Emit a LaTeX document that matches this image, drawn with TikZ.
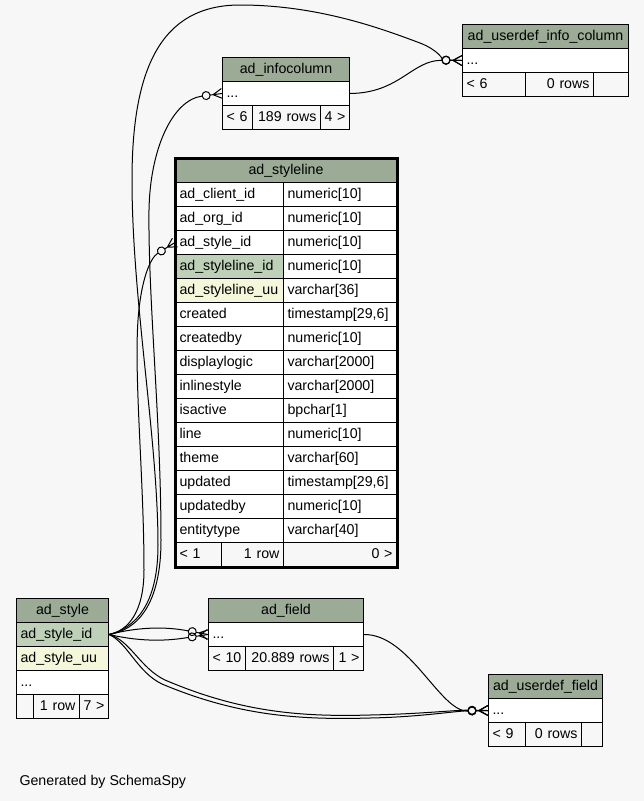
\documentclass[tikz,border=0pt]{standalone}
\usepackage{fontspec}
\setmainfont{Liberation Sans}
\usetikzlibrary{arrows.meta}

\definecolor{tblhead}{HTML}{9BAB96}
\definecolor{pkfill}{HTML}{BED1B8}
\definecolor{uqfill}{HTML}{F4F7DA}
\definecolor{bggray}{HTML}{F7F7F7}

% crow's foot with an open circle (zero or many)
\pgfdeclarearrow{
    name = CrowO,
    setup code = {
        \pgfarrowssettipend{0pt}
        \pgfarrowssetlineend{-20pt}
        \pgfarrowssetbackend{-20pt}
        \pgfarrowssetvisualbackend{-20pt}
        \pgfarrowshullpoint{0pt}{5pt}
        \pgfarrowshullpoint{0pt}{-5pt}
        \pgfarrowshullpoint{-20pt}{4pt}
        \pgfarrowshullpoint{-20pt}{-4pt}
    },
    drawing code = {
        \pgfsetdash{}{0pt}
        \pgfpathmoveto{\pgfqpoint{0pt}{5pt}}
        \pgfpathlineto{\pgfqpoint{-9pt}{0pt}}
        \pgfpathlineto{\pgfqpoint{0pt}{-5pt}}
        \pgfpathmoveto{\pgfqpoint{0pt}{0pt}}
        \pgfpathlineto{\pgfqpoint{-12pt}{0pt}}
        \pgfusepathqstroke
        \pgfpathcircle{\pgfqpoint{-16pt}{0pt}}{4pt}
        \pgfusepathqstroke
    }
}

\begin{document}
\begin{tikzpicture}[x=1pt,y=-1pt,
    font=\fontsize{14.2}{17}\selectfont,
    cell/.style={draw, line width=1, anchor=north west, minimum height=24,
        inner xsep=4, inner ysep=0, text height=10.5, text depth=3},
    lcell/.style={cell, fill=white, text width=#1, align=left},
    hcell/.style={cell, fill=tblhead, text width=#1, align=center},
    fcell/.style={cell, fill=bggray, text width=#1, align=left},
    frcell/.style={cell, fill=bggray, text width=#1, align=right},
    rel/.style={line width=1, -{CrowO}},
]
    \fill[bggray] (0,0) rectangle (644,801);
    \useasboundingbox (0,0) rectangle (644,801);

    % ad_userdef_info_column
    \node[hcell=158] (uic-h) at (462,24) {ad\_userdef\_info\_column};
    \node[lcell=158] (uic-row) at (462,48) {...};
    \node[fcell=55] (uic-f1) at (462,72) {< 6};
    \node[frcell=60] (uic-f2) at (525,72) {0 rows};
    \node[fcell=27] (uic-f3) at (593,72) {};

    % ad_infocolumn
    \node[hcell=119] (ic-h) at (222,57) {ad\_infocolumn};
    \node[lcell=119] (ic-row) at (222,81) {...};
    \node[fcell=22] (ic-f1) at (222,105) {< 6};
    \node[frcell=60] (ic-f2) at (252,105) {189 rows};
    \node[frcell=21] (ic-f3) at (320,105) {4 >};

    % ad_styleline
    \node[hcell=213] (sl-h) at (175,158) {ad\_styleline};
    \foreach \col/\typ/\clr [count=\i] in {
        ad\_client\_id/numeric[10]/white,
        ad\_org\_id/numeric[10]/white,
        ad\_style\_id/numeric[10]/white,
        ad\_styleline\_id/numeric[10]/pkfill,
        ad\_styleline\_uu/varchar[36]/uqfill,
        created/{timestamp[29,6]}/white,
        createdby/numeric[10]/white,
        displaylogic/varchar[2000]/white,
        inlinestyle/varchar[2000]/white,
        isactive/bpchar[1]/white,
        line/numeric[10]/white,
        theme/varchar[60]/white,
        updated/{timestamp[29,6]}/white,
        updatedby/numeric[10]/white,
        entitytype/varchar[40]/white}{
        \node[lcell=100, fill=\clr] (sl-\i) at (175,158+24*\i) {\col};
        \node[lcell=105] (slt-\i) at (283,158+24*\i) {\typ};
    }
    \node[fcell=38] (slf-1) at (175,542) {< 1};
    \node[frcell=54] (slf-2) at (221,542) {1 row};
    \node[frcell=105] (slf-3) at (283,542) {0 >};
    \draw[line width=3] (sl-h.north west) rectangle (slf-3.south east);

    % ad_style
    \node[hcell=84] (st-h) at (16,598) {ad\_style};
    \node[lcell=84, fill=pkfill] (st-id) at (16,622) {ad\_style\_id};
    \node[lcell=84, fill=uqfill] (st-uu) at (16,646) {ad\_style\_uu};
    \node[lcell=84] (st-more) at (16,670) {...};
    \node[fcell=9] (st-f1) at (16,694) {};
    \node[frcell=38] (st-f2) at (33,694) {1 row};
    \node[frcell=21] (st-f3) at (79,694) {7 >};

    % ad_field
    \node[hcell=147] (fd-h) at (208,598) {ad\_field};
    \node[lcell=147] (fd-row) at (208,622) {...};
    \node[fcell=29] (fd-f1) at (208,646) {< 10};
    \node[frcell=80] (fd-f2) at (245,646) {20.889 rows};
    \node[frcell=22] (fd-f3) at (333,646) {1 >};

    % ad_userdef_field
    \node[hcell=106] (ud-h) at (488,674) {ad\_userdef\_field};
    \node[lcell=106] (ud-row) at (488,698) {...};
    \node[fcell=29] (ud-f1) at (488,722) {< 9};
    \node[frcell=48] (ud-f2) at (525,722) {0 rows};
    \node[fcell=13] (ud-f3) at (581,722) {};

    % relations
    \draw[rel] (st-id.east) .. controls (135,628) and (158,605) .. (158,545)
        .. controls (158,440) and (132,300) .. (132,180)
        .. controls (132,70) and (160,5) .. (240,5)
        .. controls (320,5) and (385,30) .. (420,43)
        .. controls (438,50) and (444,60) .. (uic-row.west);
    \draw[rel] (st-id.east) .. controls (137,630) and (161,605) .. (161,540)
        .. controls (161,420) and (148,300) .. (149,210)
        .. controls (150,150) and (172,100) .. (ic-row.west);
    \draw[rel] (st-id.east) .. controls (128,631) and (144,612) .. (144,570)
        .. controls (144,480) and (134,380) .. (138,320)
        .. controls (141,280) and (150,258) .. (sl-3.west);
    \draw[rel] (st-id.east) .. controls (150,624) and (178,629) .. (fd-row.west);
    \draw[rel] (st-id.east) .. controls (150,644) and (178,639) .. (fd-row.west);
    \draw[rel] (st-id.east) .. controls (130,640) and (140,668) .. (165,680)
        .. controls (240,712) and (300,717) .. (370,715)
        .. controls (420,714) and (455,710) .. (ud-row.west);
    \draw[rel] (st-id.east) .. controls (128,643) and (137,672) .. (162,684)
        .. controls (238,716) and (300,720) .. (370,718)
        .. controls (420,717) and (455,711) .. (ud-row.west);
    \draw[rel] (fd-row.east) .. controls (410,634) and (440,712) .. (ud-row.west);
    \draw[rel] (ic-row.east) .. controls (400,93) and (412,60) .. (uic-row.west);

    \node[anchor=base west] (gen) at (16,785) {Generated by SchemaSpy};
\end{tikzpicture}
\end{document}
